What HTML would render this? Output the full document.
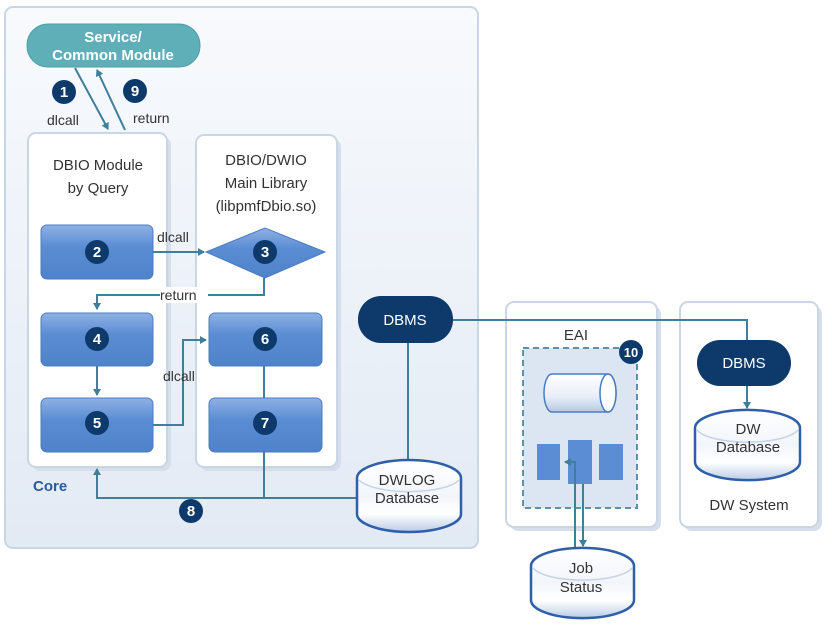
<!DOCTYPE html>
<html><head><meta charset="utf-8"><style>body{margin:0;background:#fff}svg{display:block;font-family:"Liberation Sans",sans-serif}</style></head><body>
<svg width="832" height="625" viewBox="0 0 832 625" xmlns="http://www.w3.org/2000/svg">
<defs>
<linearGradient id="bg" x1="0" y1="0" x2="0" y2="1"><stop offset="0" stop-color="#f8fafd"/><stop offset="1" stop-color="#e2eaf4"/></linearGradient>
<linearGradient id="bx" x1="0" y1="0" x2="0" y2="1"><stop offset="0" stop-color="#8fb1e4"/><stop offset="0.4" stop-color="#5a8dd3"/><stop offset="1" stop-color="#4e82ca"/></linearGradient>
<linearGradient id="cy" x1="0" y1="0" x2="0" y2="1"><stop offset="0" stop-color="#ffffff"/><stop offset="0.5" stop-color="#f2f6fb"/><stop offset="0.75" stop-color="#ffffff"/><stop offset="1" stop-color="#b9cbe6"/></linearGradient>
<linearGradient id="cyh" x1="0" y1="0" x2="0" y2="1"><stop offset="0" stop-color="#ffffff"/><stop offset="0.6" stop-color="#e8eef8"/><stop offset="1" stop-color="#b6c8e4"/></linearGradient>
<marker id="a" markerWidth="8" markerHeight="8" refX="6" refY="4" orient="auto" markerUnits="userSpaceOnUse"><path d="M0,0 L7,4 L0,8z" fill="#3f7f9a"/></marker>
</defs>
<rect x="5" y="7" width="473" height="541" rx="8" fill="url(#bg)" stroke="#c9d6e6" stroke-width="2"/>
<rect x="27" y="24" width="173" height="43" rx="21" fill="#5fafb8" stroke="#4f9ea8"/>
<text x="113" y="42" text-anchor="middle" fill="#fff" font-weight="bold" font-size="15">Service/</text>
<text x="113" y="60" text-anchor="middle" fill="#fff" font-weight="bold" font-size="15">Common Module</text>
<rect x="32" y="137" width="139" height="334" rx="8" fill="#d5deea"/>
<rect x="28" y="133" width="139" height="334" rx="8" fill="#fff" stroke="#c9d6e6" stroke-width="2"/>
<rect x="200" y="139" width="141" height="332" rx="8" fill="#d5deea"/>
<rect x="196" y="135" width="141" height="332" rx="8" fill="#fff" stroke="#c9d6e6" stroke-width="2"/>
<g font-size="15" fill="#333" text-anchor="middle">
<text x="98" y="170">DBIO Module</text><text x="98" y="193">by Query</text>
<text x="266" y="165">DBIO/DWIO</text><text x="266" y="188">Main Library</text><text x="266" y="211">(libpmfDbio.so)</text>
</g>
<g fill="url(#bx)" stroke="#4a7cc2">
<rect x="41" y="225" width="112" height="54" rx="6"/>
<rect x="41" y="313" width="112" height="53" rx="6"/>
<rect x="41" y="398" width="112" height="54" rx="6"/>
<rect x="209" y="313" width="113" height="53" rx="6"/>
<rect x="209" y="398" width="113" height="54" rx="6"/>
<path d="M206,252 L265,228 L325,252 L265,278z"/>
</g>
<g fill="none" stroke="#3f7f9a" stroke-width="2">
<path d="M75,68 L108,129" marker-end="url(#a)"/>
<path d="M125,130 L97,70" marker-end="url(#a)"/>
<path d="M153,252 L204,252" marker-end="url(#a)"/>
<path d="M264,278 L264,295 L97,295 L97,309" marker-end="url(#a)"/>
<path d="M97,366 L97,395" marker-end="url(#a)"/>
<path d="M153,425 L183,425 L183,340 L206,340" marker-end="url(#a)"/>
<path d="M264,366 L264,398"/>
<path d="M264,452 L264,498 L360,498"/>
<path d="M264,498 L97,498 L97,469" marker-end="url(#a)"/>
<path d="M408,343 L408,462"/>
</g>
<g font-size="14" fill="#333">
<rect x="160" y="287" width="48" height="16" fill="#fff"/>
<text x="160" y="300">return</text>
<text x="157" y="242">dlcall</text>
<text x="163" y="381">dlcall</text>
<text x="47" y="125">dlcall</text>
<text x="133" y="123">return</text>
</g>
<g fill="#0d3a6b"><circle cx="64" cy="92" r="12"/><circle cx="135" cy="91" r="12"/><circle cx="97" cy="252" r="12"/><circle cx="265" cy="252" r="12"/><circle cx="97" cy="339" r="12"/><circle cx="97" cy="423" r="12"/><circle cx="265" cy="339" r="12"/><circle cx="265" cy="423" r="12"/><circle cx="191" cy="511" r="12"/></g>
<g fill="#fff" font-weight="bold" font-size="15" text-anchor="middle">
<text x="64" y="97">1</text><text x="135" y="96">9</text><text x="97" y="257">2</text><text x="265" y="257">3</text><text x="97" y="344">4</text><text x="97" y="428">5</text><text x="265" y="344">6</text><text x="265" y="428">7</text><text x="191" y="516">8</text>
</g>
<text x="33" y="491" font-size="15" font-weight="bold" fill="#2b5b9a">Core</text>
<rect x="358" y="296" width="95" height="47" rx="23" fill="#0d3a6b"/>
<text x="405" y="325" text-anchor="middle" fill="#fff" font-size="15">DBMS</text>
<rect x="510" y="306" width="151" height="225" rx="8" fill="#d5deea"/>
<rect x="506" y="302" width="151" height="225" rx="8" fill="#fff" stroke="#c9d6e6" stroke-width="2"/>
<rect x="684" y="306" width="138" height="225" rx="8" fill="#d5deea"/>
<rect x="680" y="302" width="138" height="225" rx="8" fill="#fff" stroke="#c9d6e6" stroke-width="2"/>
<path d="M453,320 L747,320 L747,342" fill="none" stroke="#3f7f9a" stroke-width="2"/>
<text x="576" y="340" text-anchor="middle" font-size="15" fill="#333">EAI</text>
<rect x="523" y="348" width="114" height="160" fill="#dce6f2" stroke="#5d90aa" stroke-width="2" stroke-dasharray="6,4"/>
<circle cx="631" cy="352" r="12" fill="#0d3a6b"/><text x="631" y="357" text-anchor="middle" fill="#fff" font-weight="bold" font-size="13">10</text>
<path d="M552,374 L608,374 A8,19 0 0 1 608,412 L552,412 A8,19 0 0 1 552,374z" fill="url(#cyh)" stroke="#4a7cc2" stroke-width="1.5"/>
<ellipse cx="608" cy="393" rx="8" ry="19" fill="#fff" stroke="#4a7cc2" stroke-width="1.5"/>
<g fill="#5a8dd3"><rect x="537" y="444" width="23" height="36"/><rect x="568" y="440" width="24" height="44"/><rect x="599" y="444" width="24" height="36"/></g>
<g fill="none" stroke="#3f7f9a" stroke-width="2"><path d="M575,548 L575,462 L565,462" marker-end="url(#a)"/><path d="M583,484 L583,546" marker-end="url(#a)"/></g>
<rect x="697" y="340" width="94" height="46" rx="23" fill="#0d3a6b"/>
<text x="744" y="368" text-anchor="middle" fill="#fff" font-size="15">DBMS</text>
<path d="M747,386 L747,408" fill="none" stroke="#3f7f9a" stroke-width="2" marker-end="url(#a)"/>
<g stroke="#2f5fa8" stroke-width="2.5" fill="url(#cy)">
<path d="M357,478 A52,18 0 0 1 461,478 L461,514 A52,18 0 0 1 357,514z"/>
<path d="M695,428 A52,18 0 0 1 800,428 L800,462 A52,18 0 0 1 695,462z"/>
<path d="M531,566 A51,18 0 0 1 634,566 L634,600 A51,18 0 0 1 531,600z"/>
</g>
<g fill="none" stroke="#c5d3ea" stroke-width="1.5">
<path d="M359,480 A52,16 0 0 0 459,480"/>
<path d="M697,430 A52,16 0 0 0 798,430"/>
<path d="M533,568 A51,16 0 0 0 632,568"/>
</g>
<g font-size="15" fill="#333" text-anchor="middle">
<text x="407" y="485">DWLOG</text><text x="407" y="503">Database</text>
<text x="748" y="434">DW</text><text x="748" y="452">Database</text>
<text x="749" y="510">DW System</text>
<text x="581" y="573">Job</text><text x="581" y="592">Status</text>
</g>
</svg>
</body></html>
